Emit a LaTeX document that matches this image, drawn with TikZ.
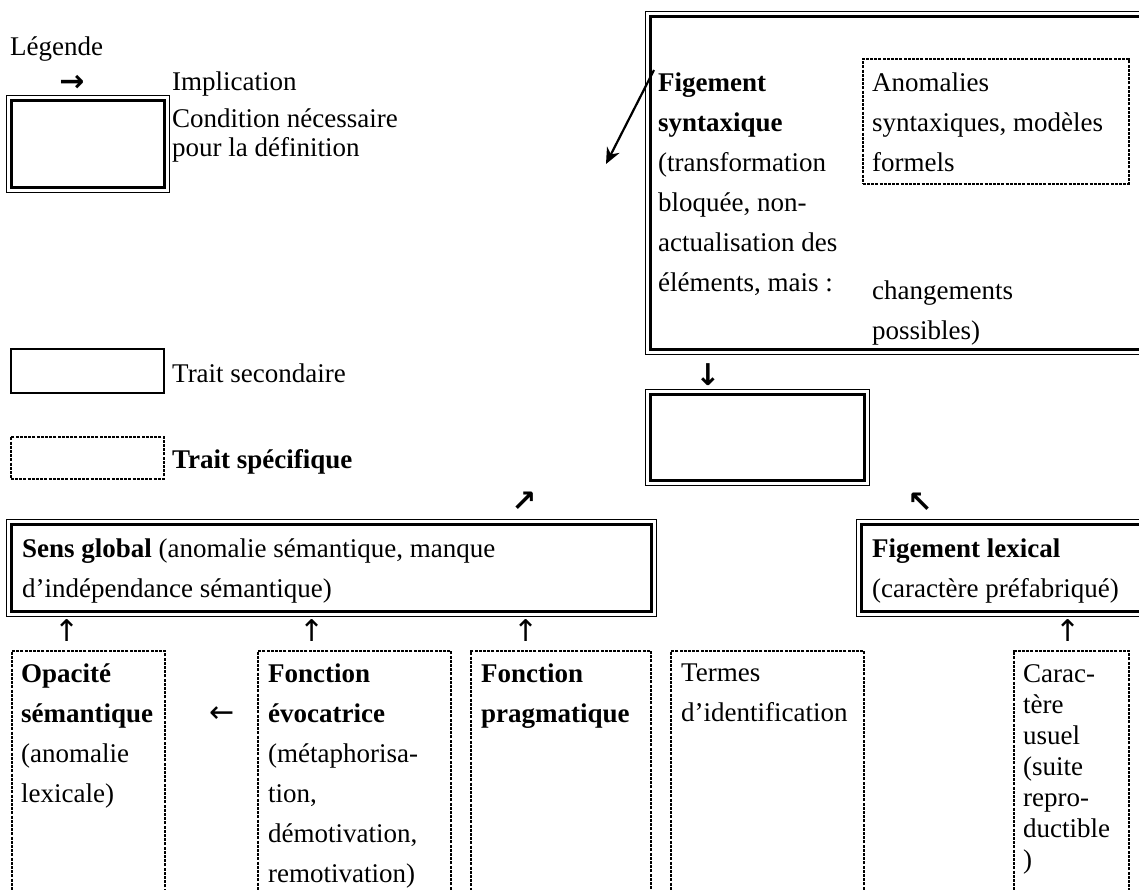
\documentclass[tikz,border=0pt]{standalone}
\usepackage{fontspec}
\setmainfont{Liberation Serif}
\newfontfamily\arrowfont{DejaVu Sans}
\usetikzlibrary{arrows.meta}

\tikzset{
  every node/.style={inner sep=0pt},
  txt/.style={anchor=north west, align=left, font=\fontsize{27}{40}\selectfont},
  lgd/.style={txt, font=\fontsize{27}{29}\selectfont},
  boldsym/.style={font=\arrowfont\bfseries\fontsize{30}{30}\selectfont},
  thinsym/.style={font=\arrowfont\fontsize{30}{30}\selectfont},
  condbox/.style={draw, line width=3pt, anchor=north west},
  secbox/.style={draw, line width=2pt, anchor=north west},
  specbox/.style={draw, line width=1.6pt, dash pattern=on 3pt off 1.2pt, anchor=north west},
}

\begin{document}
\begin{tikzpicture}[x=1pt,y=-1pt]
\useasboundingbox (0,0) rectangle (1139,889);

\node (legende) [lgd] at (10,37) {Légende};
\node (impl_sym) [boldsym] at (72,83) {→};
\node (impl) [lgd] at (172,72) {Implication};
\node (cond) [condbox, minimum width=153pt, minimum height=87pt] at (10,99) {};
\node (cond_lbl) [lgd] at (172,109) {Condition nécessaire\\pour la définition};
\node (sec) [secbox, minimum width=153pt, minimum height=44pt] at (10,348) {};
\node (sec_lbl) [lgd] at (172,364) {Trait secondaire};
\node (spec) [specbox, minimum width=153pt, minimum height=42pt] at (10,436) {};
\node (spec_lbl) [lgd] at (172,449) {\textbf{Trait spécifique}};

\node (syn) [condbox, minimum width=496pt, minimum height=333pt] at (649,15) {};
\node (syn_lbl) [txt] at (658,73) {\textbf{Figement}\\\textbf{syntaxique}\\(transformation\\bloquée, non-\\actualisation des\\éléments, mais :};
\node (anom) [specbox, minimum width=266pt, minimum height=125pt] at (862,58) {};
\node (anom_lbl) [txt] at (872,73) {Anomalies\\syntaxiques, modèles\\formels};
\node (chg_lbl) [txt] at (872,281) {changements\\possibles)};
\coordinate (diag_s) at (654,70);
\coordinate (diag_e) at (606,164);
\draw[line width=2.2pt, -{Stealth[length=16pt,width=14pt]}] (diag_s) -- (diag_e);

\node (down_sym) [boldsym] at (708,375) {↓};
\node (res) [condbox, minimum width=214pt, minimum height=86pt] at (649,393) {};
\node (ne_sym) [boldsym] at (524,502) {↗};
\node (nw_sym) [boldsym] at (920,503) {↖};

\node (sens) [condbox, minimum width=640pt, minimum height=87pt] at (10,523) {};
\node (sens_lbl) [txt] at (22,539) {\textbf{Sens global} (anomalie sémantique, manque\\d’indépendance sémantique)};
\node (lex) [condbox, minimum width=285pt, minimum height=87pt] at (860,523) {};
\node (lex_lbl) [txt] at (872,539) {\textbf{Figement lexical}\\(caractère préfabriqué)};

\foreach \b in {cond,syn,res,sens,lex}
  \draw[line width=0.9pt] ([shift={(-3.5pt,3.5pt)}]\b.north west) rectangle ([shift={(3.5pt,-3.5pt)}]\b.south east);

\foreach \x [count=\i] in {67,312,526,1068}
  \node (up\i) [thinsym] at (\x,631) {↑};
\node (left_sym) [thinsym] at (222,715) {←};

\node (opac) [specbox, minimum width=153pt, minimum height=260pt] at (11,650) {};
\node (opac_lbl) [txt] at (21,664) {\textbf{Opacité}\\\textbf{sémantique}\\(anomalie\\lexicale)};
\node (evoc) [specbox, minimum width=193pt, minimum height=260pt] at (257,650) {};
\node (evoc_lbl) [txt] at (268,664) {\textbf{Fonction}\\\textbf{évocatrice}\\(métaphorisa-\\tion,\\démotivation,\\remotivation)};
\node (prag) [specbox, minimum width=180pt, minimum height=260pt] at (470,650) {};
\node (prag_lbl) [txt] at (481,664) {\textbf{Fonction}\\\textbf{pragmatique}};
\node (term) [specbox, minimum width=193pt, minimum height=260pt] at (670,650) {};
\node (term_lbl) [txt] at (681,664) {Termes\\d’identification};
\node (usu) [specbox, minimum width=115pt, minimum height=260pt] at (1013,650) {};
\node (usu_lbl) [txt, font=\fontsize{27}{31}\selectfont] at (1023,664) {Carac-\\tère\\usuel\\(suite\\repro-\\ductible\\)};
\end{tikzpicture}
\end{document}
